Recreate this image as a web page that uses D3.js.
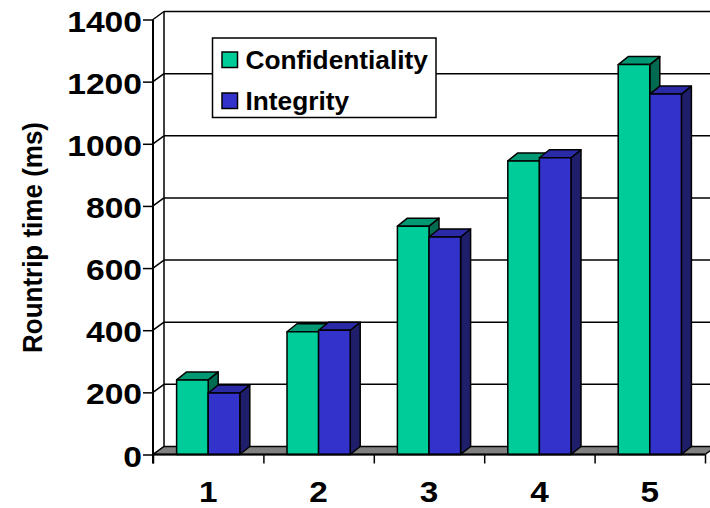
<!DOCTYPE html>
<html>
<head>
<meta charset="utf-8">
<script src="https://cdn.jsdelivr.net/npm/d3@7"></script>
<style>
  html, body { margin: 0; padding: 0; background: #fff; }
  svg { display: block; }
  text { font-family: "Liberation Sans", Arial, sans-serif; font-weight: bold; fill: #000; }
</style>
</head>
<body>
<svg id="chart" width="710" height="508"></svg>
<script>
// Round-trip times per test case
const categories = ["1", "2", "3", "4", "5"];
const seriesNames = ["Confidentiality", "Integrity"];
const confidentiality = [240, 395, 735, 945, 1255];
const integrity = [198, 400, 700, 955, 1160];
const yTicks = [0, 200, 400, 600, 800, 1000, 1200, 1400];

const colors = {
  Confidentiality: { front: "#00cc99", top: "#009973", side: "#006b50" },
  Integrity:       { front: "#3333cc", top: "#2a2aa6", side: "#1e1e6b" }
};

const W = 710, H = 508;
const FONT = "'Liberation Sans', Arial, sans-serif";
const svg = d3.select("#chart");

// Widen glyphs horizontally by factor k while keeping the anchor
function widen(sel, k) {
  sel.each(function () {
    const len = this.getComputedTextLength();
    d3.select(this).attr("textLength", len * k).attr("lengthAdjust", "spacingAndGlyphs");
  });
}

// Plot frame and pseudo-3D depth offsets
const left = 153, right = 705;
const wallDx = 11, wallDy = -8;   // back wall offset
const barDx = 10, barDy = -8;     // bar depth

const y = d3.scaleLinear().domain([0, 1400]).range([454.5, 19.5]);
const x = d3.scaleBand().domain(categories).range([left, right]).padding(0);
const xs = d3.scaleBand().domain(seriesNames).range([0, x.bandwidth()])
  .paddingInner(0).paddingOuter(0.747);
const xEdge = d3.scaleLinear().domain([0, categories.length]).range([left, right]);

svg.append("rect").attr("width", W).attr("height", H).attr("fill", "#fff");

svg.append("clipPath").attr("id", "clip")
  .append("rect").attr("width", W).attr("height", H);

const plot = svg.append("g").attr("clip-path", "url(#clip)");

// Back wall gridlines
plot.append("g").selectAll("line").data(yTicks.filter(d => d > 0)).join("line")
  .attr("x1", left + wallDx).attr("x2", right + wallDx)
  .attr("y1", d => y(d) + wallDy).attr("y2", d => y(d) + wallDy)
  .attr("stroke", "#000").attr("stroke-width", 1.5);

// Left side wall: back edge and depth lines at each tick
plot.append("line")
  .attr("x1", left + wallDx).attr("x2", left + wallDx)
  .attr("y1", y(1400) + wallDy).attr("y2", y(0) + wallDy)
  .attr("stroke", "#000").attr("stroke-width", 1.5);
plot.append("g").selectAll("line").data(yTicks).join("line")
  .attr("x1", left).attr("x2", left + wallDx)
  .attr("y1", d => y(d)).attr("y2", d => y(d) + wallDy)
  .attr("stroke", "#000").attr("stroke-width", 1.5);

// Floor
const y0 = y(0);
plot.append("path")
  .attr("d", `M${left},${y0}L${left + wallDx},${y0 + wallDy}L${right + wallDx},${y0 + wallDy}L${right},${y0}Z`)
  .attr("fill", "#808080").attr("stroke", "#000").attr("stroke-width", 1.5)
  .attr("stroke-linejoin", "round");

// Bars
const rows = categories.map((c, i) => ({
  cat: c,
  values: [
    { name: "Confidentiality", value: confidentiality[i] },
    { name: "Integrity", value: integrity[i] }
  ]
}));

const barG = plot.append("g").attr("stroke", "#000").attr("stroke-width", 1.5)
  .attr("stroke-linejoin", "round");
rows.forEach(r => {
  r.values.forEach(v => {
    const bx = x(r.cat) + xs(v.name);
    const bw = xs.bandwidth();
    const by = y(v.value);
    const c = colors[v.name];
    const g = barG.append("g");
    g.append("path")
      .attr("d", `M${bx + bw},${by}L${bx + bw + barDx},${by + barDy}L${bx + bw + barDx},${y0 + barDy}L${bx + bw},${y0}Z`)
      .attr("fill", c.side);
    g.append("path")
      .attr("d", `M${bx},${by}L${bx + barDx},${by + barDy}L${bx + bw + barDx},${by + barDy}L${bx + bw},${by}Z`)
      .attr("fill", c.top);
    g.append("rect")
      .attr("x", bx).attr("y", by).attr("width", bw).attr("height", y0 - by)
      .attr("fill", c.front);
  });
});

// Y axis
const yAxis = svg.append("g").attr("transform", `translate(${left},0)`)
  .call(d3.axisLeft(y).tickValues(yTicks).tickFormat(d3.format("d"))
    .tickSize(10).tickPadding(1).tickSizeOuter(0));
yAxis.select(".domain").attr("stroke", "#000").attr("stroke-width", 2)
  .attr("d", `M0,${y(1400)}V${y0 + 9}`);
yAxis.selectAll(".tick line").attr("stroke", "#000").attr("stroke-width", 1.5);
yAxis.selectAll(".tick text").attr("dy", "11.5px")
  .style("font-size", "30px").style("font-family", FONT)
  .style("font-weight", "bold").attr("fill", "#000")
  .call(widen, 1.12);

// X axis: boundary ticks plus centred category labels
const xAxis = svg.append("g").attr("transform", `translate(0,${y0})`)
  .call(d3.axisBottom(xEdge).tickValues(d3.range(categories.length + 1))
    .tickFormat("").tickSize(9).tickSizeOuter(0));
xAxis.select(".domain").attr("stroke", "#000").attr("stroke-width", 2)
  .attr("d", `M${left},0H${right}`);
xAxis.selectAll(".tick line").attr("stroke", "#000").attr("stroke-width", 1.5);

const xLabels = svg.append("g").attr("transform", `translate(0,${y0})`)
  .call(d3.axisBottom(x).tickSize(0).tickPadding(0));
xLabels.select(".domain").remove();
xLabels.selectAll(".tick text").attr("dy", null).attr("y", 47)
  .style("font-size", "30px").style("font-family", FONT)
  .style("font-weight", "bold").attr("fill", "#000")
  .call(widen, 1.11);

// Y axis title
svg.append("text")
  .attr("transform", "translate(41.5,237.5) rotate(-90) scale(1,1.06)")
  .attr("text-anchor", "middle")
  .style("font-size", "26px")
  .text("Rountrip time (ms)");

// Legend
const legend = svg.append("g");
legend.append("rect")
  .attr("x", 212.5).attr("y", 38).attr("width", 223.5).attr("height", 79.5)
  .attr("fill", "#fff").attr("stroke", "#000").attr("stroke-width", 1.5);
seriesNames.forEach((name, i) => {
  const ly = 52 + i * 41;
  legend.append("rect")
    .attr("x", 222).attr("y", ly).attr("width", 15.5).attr("height", 15.5)
    .attr("fill", colors[name].front).attr("stroke", "#000").attr("stroke-width", 1.5);
  legend.append("text")
    .attr("x", 245.5).attr("y", ly + 16.5)
    .style("font-size", "25.5px")
    .text(name)
    .call(widen, 1.03);
});
</script>
</body>
</html>
